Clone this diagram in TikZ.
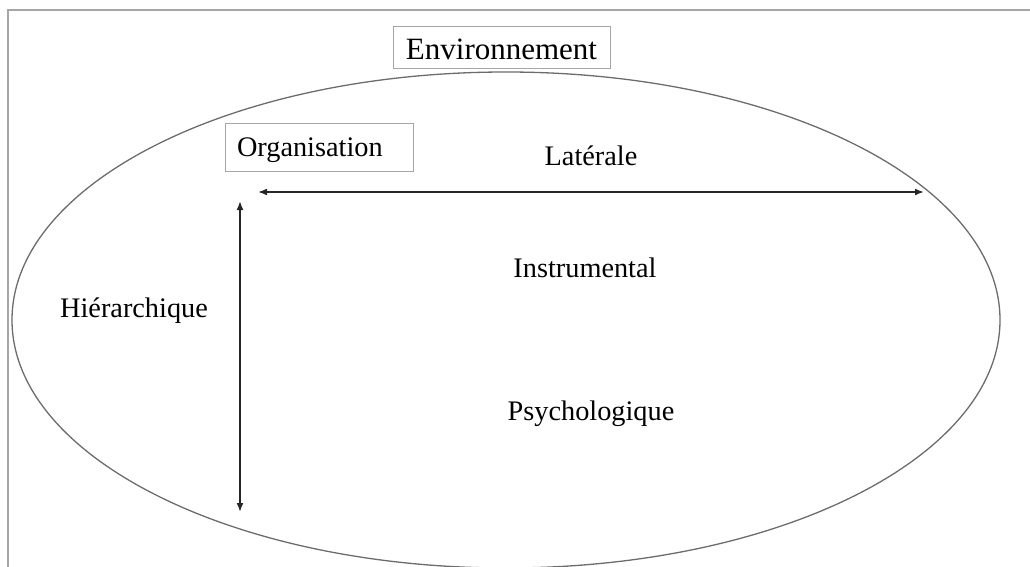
\documentclass[tikz,border=0pt]{standalone}
\usepackage{fontspec}
\setmainfont{Liberation Serif}
\usetikzlibrary{arrows.meta}

\begin{document}
\begin{tikzpicture} [x=1pt, y=-1pt, >={Latex[length=9pt,width=7pt]},
  frame/.style={draw=gray!70, line width=1.6pt},
  zone/.style={draw=gray!85!black, line width=1.3pt},
  titlebox/.style={rectangle, draw=gray!70, line width=0.9pt, inner ysep=0pt},
  label/.style={anchor=base, inner sep=0pt},
  flow/.style={<->, line width=1.7pt, black!85}]
{\fontsize{28.3}{34}\selectfont
  \useasboundingbox (0,0) rectangle (1030,567);
  %% Frame and environment
  \draw [frame] (1030,10) -- (8,10) -- (8,567);
  \draw [zone] (506,320) ellipse [x radius=494pt, y radius=248pt];
  \node [titlebox, minimum width=217pt, minimum height=42pt, text height=28pt, text depth=2pt] (env) at (501.5,47) {\fontsize{31}{36}\selectfont Environnement};
  \node [titlebox, minimum height=48pt, text height=28pt, text depth=8pt, text width=164pt, align=left, inner xsep=12pt] (org) at (319,147) {Organisation};
  % Labels
  \node [label] (lat) at (591,165) {Latérale};
  \node [label] (instr) at (585,277) {Instrumental};
  \node [label] (psy) at (591,420) {Psychologique};
  \node [label] (hier) at (134,317) {Hiérarchique};
  % Draw edges
  \coordinate (latW) at (258,192);
  \coordinate (latE) at (924,192);
  \coordinate (hierN) at (240,201);
  \coordinate (hierS) at (240,512);
  \draw [flow] (latW) -- (latE);
  \draw [flow] (hierN) -- (hierS);
}
\end{tikzpicture}
\end{document}
